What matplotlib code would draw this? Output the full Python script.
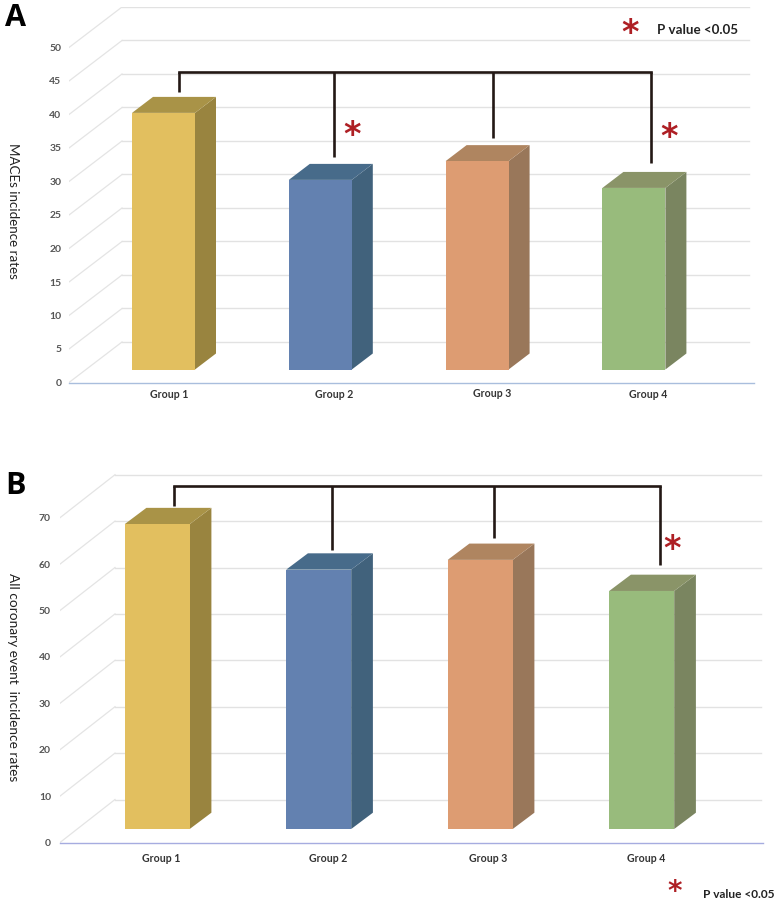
import matplotlib
matplotlib.use('Agg')
import matplotlib.pyplot as plt
from matplotlib.patches import Polygon

W, H = 779, 906
plt.rcParams['font.family'] = ['Lato', 'DejaVu Sans']

# Chart values
groups = ['Group 1', 'Group 2', 'Group 3', 'Group 4']
maces_rates = [38.3, 28.3, 31.1, 27.1]
coronary_rates = [65.7, 55.9, 58.0, 51.3]
maces_ticks = [0, 5, 10, 15, 20, 25, 30, 35, 40, 45, 50]
coronary_ticks = [0, 10, 20, 30, 40, 50, 60, 70]

# front, side, top colours of the bars
front_colors = ['#E2BF5F', '#6381B0', '#DD9C72', '#98BB7C']
side_colors = ['#99843F', '#41627C', '#99775A', '#7A8560']
top_colors = ['#A99347', '#476B8A', '#AF8560', '#8A9468']

fig = plt.figure(figsize=(W / 100, H / 100), dpi=100)

# overlay in pixel coords for the brackets, stars and panel letters
over = fig.add_axes([0, 0, 1, 1], zorder=5)
over.set_xlim(0, W)
over.set_ylim(H, 0)
over.axis('off')


def draw_panel(values, ticks, left, right, back_right, floor_y, top_y, y_scale,
               bar_left, bar_step, bar_w, lift, wall, side, floor_color, tick_pad):
    ax = fig.add_axes([left / W, 1 - floor_y / H, (right - left) / W, (floor_y - top_y) / H])
    ax.set_xlim(left, right)
    ax.set_ylim(0, (floor_y - top_y) / y_scale)

    wall_dx, wall_dy = wall[0], wall[1] / y_scale
    side_dx, side_dy = side[0], side[1] / y_scale
    base = lift / y_scale

    # wall gridlines
    for t in ticks:
        ax.plot([left, left + wall_dx], [t, t + wall_dy], color='#E4E4E4', lw=0.9, zorder=1)
        ax.plot([left + wall_dx, back_right], [t + wall_dy, t + wall_dy], color='#E2E2E2', lw=1.0, zorder=1)

    for i, v in enumerate(values):
        x0 = bar_left + i * bar_step
        x1 = x0 + bar_w
        y1 = base + v
        ax.add_patch(Polygon([(x1, base), (x1 + side_dx, base + side_dy), (x1 + side_dx, y1 + side_dy), (x1, y1)],
                             fc=side_colors[i], ec='none', zorder=2))
        ax.add_patch(Polygon([(x0, y1), (x1, y1), (x1 + side_dx, y1 + side_dy), (x0 + side_dx, y1 + side_dy)],
                             fc=top_colors[i], ec='none', zorder=2))
        ax.add_patch(Polygon([(x0, base), (x1, base), (x1, y1), (x0, y1)],
                             fc=front_colors[i], ec='none', zorder=3))

    ax.patch.set_alpha(0)
    for s in ['top', 'left', 'right']:
        ax.spines[s].set_visible(False)
    ax.spines['bottom'].set_color(floor_color)
    ax.spines['bottom'].set_linewidth(1.0)
    ax.set_xticks([])
    ax.set_yticks(ticks)
    ax.tick_params(axis='y', length=0, pad=tick_pad, labelsize=7.5, labelcolor='#555555')
    for lab in ax.get_yticklabels():
        lab.set_fontweight('bold')
    return ax


draw_panel(maces_rates, maces_ticks, 69, 754, 749, 382.5, 7, 6.7,
           132, 156.8, 63, 13, (53, 40.5), (21, 16), '#A9BEDD', 5.5)
draw_panel(coronary_rates, coronary_ticks, 60, 763, 761, 842.5, 470, 4.64,
           124.7, 161.5, 65, 13.5, (55, 43), (21.7, 16.3), '#A6ACE0', 6.5)


def bracket(y, xs, ends):
    over.plot([xs[0], xs[-1]], [y, y], color='#231815', lw=1.9, solid_capstyle='projecting')
    for x, e in zip(xs, ends):
        over.plot([x, x], [y, e], color='#231815', lw=1.9, solid_capstyle='butt')


bracket(71.5, [179, 334, 493, 651], [92, 157, 138, 163])
bracket(486, [174.5, 332, 494, 660.5], [506, 550, 538, 565])


def star(x, y, size=24):
    over.text(x, y, '*', color='#AE1F24', fontsize=size, fontweight='bold', family='DejaVu Sans',
              ha='center', va='center_baseline')


star(352.5, 131.5)
star(669, 134)
star(630, 29.5)
star(672.5, 546)
star(675, 889, size=20)

# panel letters and axis titles
over.text(16, 18, 'A', fontsize=22, fontweight='bold', family='Open Sans', ha='center', va='center', color='black')
over.text(16, 486, 'B', fontsize=22, fontweight='bold', family='Open Sans', ha='center', va='center', color='black')
over.text(12.5, 211, 'MACEs incidence rates', fontsize=9.6, rotation=-90, ha='center', va='center', color='#222222')
over.text(13, 677.5, 'All coronary event  incidence rates', fontsize=9.8, rotation=-90, ha='center', va='center', color='#222222')
over.text(697.5, 30.5, 'P value <0.05', fontsize=9.6, fontweight='bold', ha='center', va='center', color='#222222')
over.text(739, 894.5, 'P value <0.05', fontsize=8.6, fontweight='bold', ha='center', va='center', color='#222222')

# category labels sit a little off the bars in the original
label_xa = [169, 334.5, 492, 648]
label_ya = [394.5, 394.5, 393.5, 394.5]
label_xb = [161, 328.5, 488, 646]
label_yb = [859, 859, 858.5, 859]
for g, xa, ya, xb, yb in zip(groups, label_xa, label_ya, label_xb, label_yb):
    over.text(xa, ya, g, fontsize=7.6, ha='center', va='center', color='#333333', fontweight='bold')
    over.text(xb, yb, g, fontsize=7.6, ha='center', va='center', color='#333333', fontweight='bold')

fig.savefig('out.png', dpi=100)
